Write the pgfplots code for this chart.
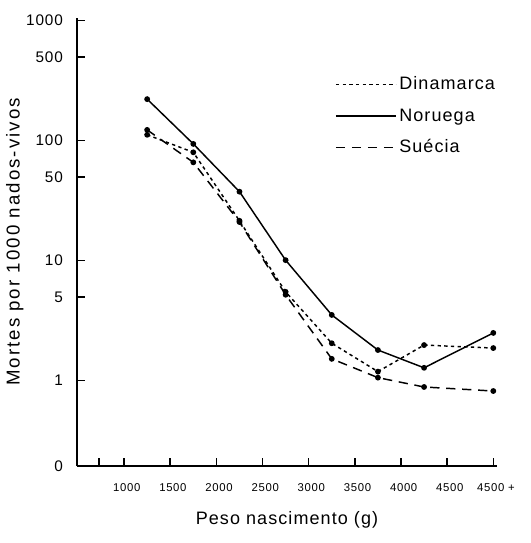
\documentclass[border=0pt]{standalone}
\usepackage{fontspec}
\setmainfont{Liberation Sans}[LetterSpace=6]
\usepackage{pgfplots}
\pgfplotsset{compat=1.18}

\begin{document}
\begin{tikzpicture}
\useasboundingbox (-57.75pt,-57.75pt) rectangle (340.5pt,349.5pt);
\begin{axis}[
    at={(0pt,0pt)}, anchor=south west,
    scale only axis,
    width=315pt, height=336pt,
    ymode=log,
    xmin=490, xmax=5040,
    ymin=0.1945, ymax=1053,
    axis lines=left,
    axis line style={-, line width=1.5pt},
    tick style={black, line width=1.2pt},
    tick align=inside,
    major tick length=6pt,
    minor tick num=0,
    /pgf/number format/assume math mode=true,
    xtick={730,1000,1500,2000,2500,3000,3500,4000,4500,5000},
    xticklabels={,1000,1500,2000,2500,3000,3500,4000,4500,4500 +},
    ytick={0.1945,1,5,10,50,100,500,1000},
    yticklabels={0,1,5,10,50,100,500,1000},
    log ticks with fixed point,
    x tick label style={font=\fontsize{8.5}{10}\selectfont, yshift=-10pt, xshift=2pt},
    y tick label style={font=\fontsize{11.5}{13}\selectfont, xshift=-7pt},
    xlabel={Peso nascimento (g)},
    ylabel={Mortes por 1000 nados-vivos},
    xlabel style={font=\fontsize{13.5}{16}\selectfont, yshift=-8pt},
    ylabel style={font=\fontsize{14}{16}\selectfont\addfontfeature{LetterSpace=11}, yshift=-5pt},
    legend style={draw=none, fill=none, at={(0.614,0.875)}, anchor=north west,
        font=\fontsize{13.5}{16}\selectfont, row sep=8.5pt, inner sep=0pt},
    legend cell align=left,
    legend image code/.code={\draw[#1] (0pt,0pt) -- (45pt,0pt);},
    every axis plot/.append style={black, line width=1.1pt, mark=*, mark size=1.6pt,
        mark options={solid}},
]
\addplot[dash pattern=on 2.5pt off 2.5pt] coordinates {
(1250,112) (1750,80) (2250,21.5) (2750,5.5) (3250,2.05) (3750,1.19) (4250,1.98) (5000,1.87)
};
\addlegendentry{Dinamarca}
\addplot[solid] coordinates {
(1250,222) (1750,94) (2250,37.6) (2750,10.1) (3250,3.53) (3750,1.80) (4250,1.28) (5000,2.50)
};
\addlegendentry{Noruega}
\addplot[dash pattern=on 7pt off 5pt] coordinates {
(1250,123) (1750,66) (2250,21) (2750,5.2) (3250,1.52) (3750,1.06) (4250,0.886) (5000,0.82)
};
\addlegendentry{Suécia}
\end{axis}
\end{tikzpicture}
\end{document}
